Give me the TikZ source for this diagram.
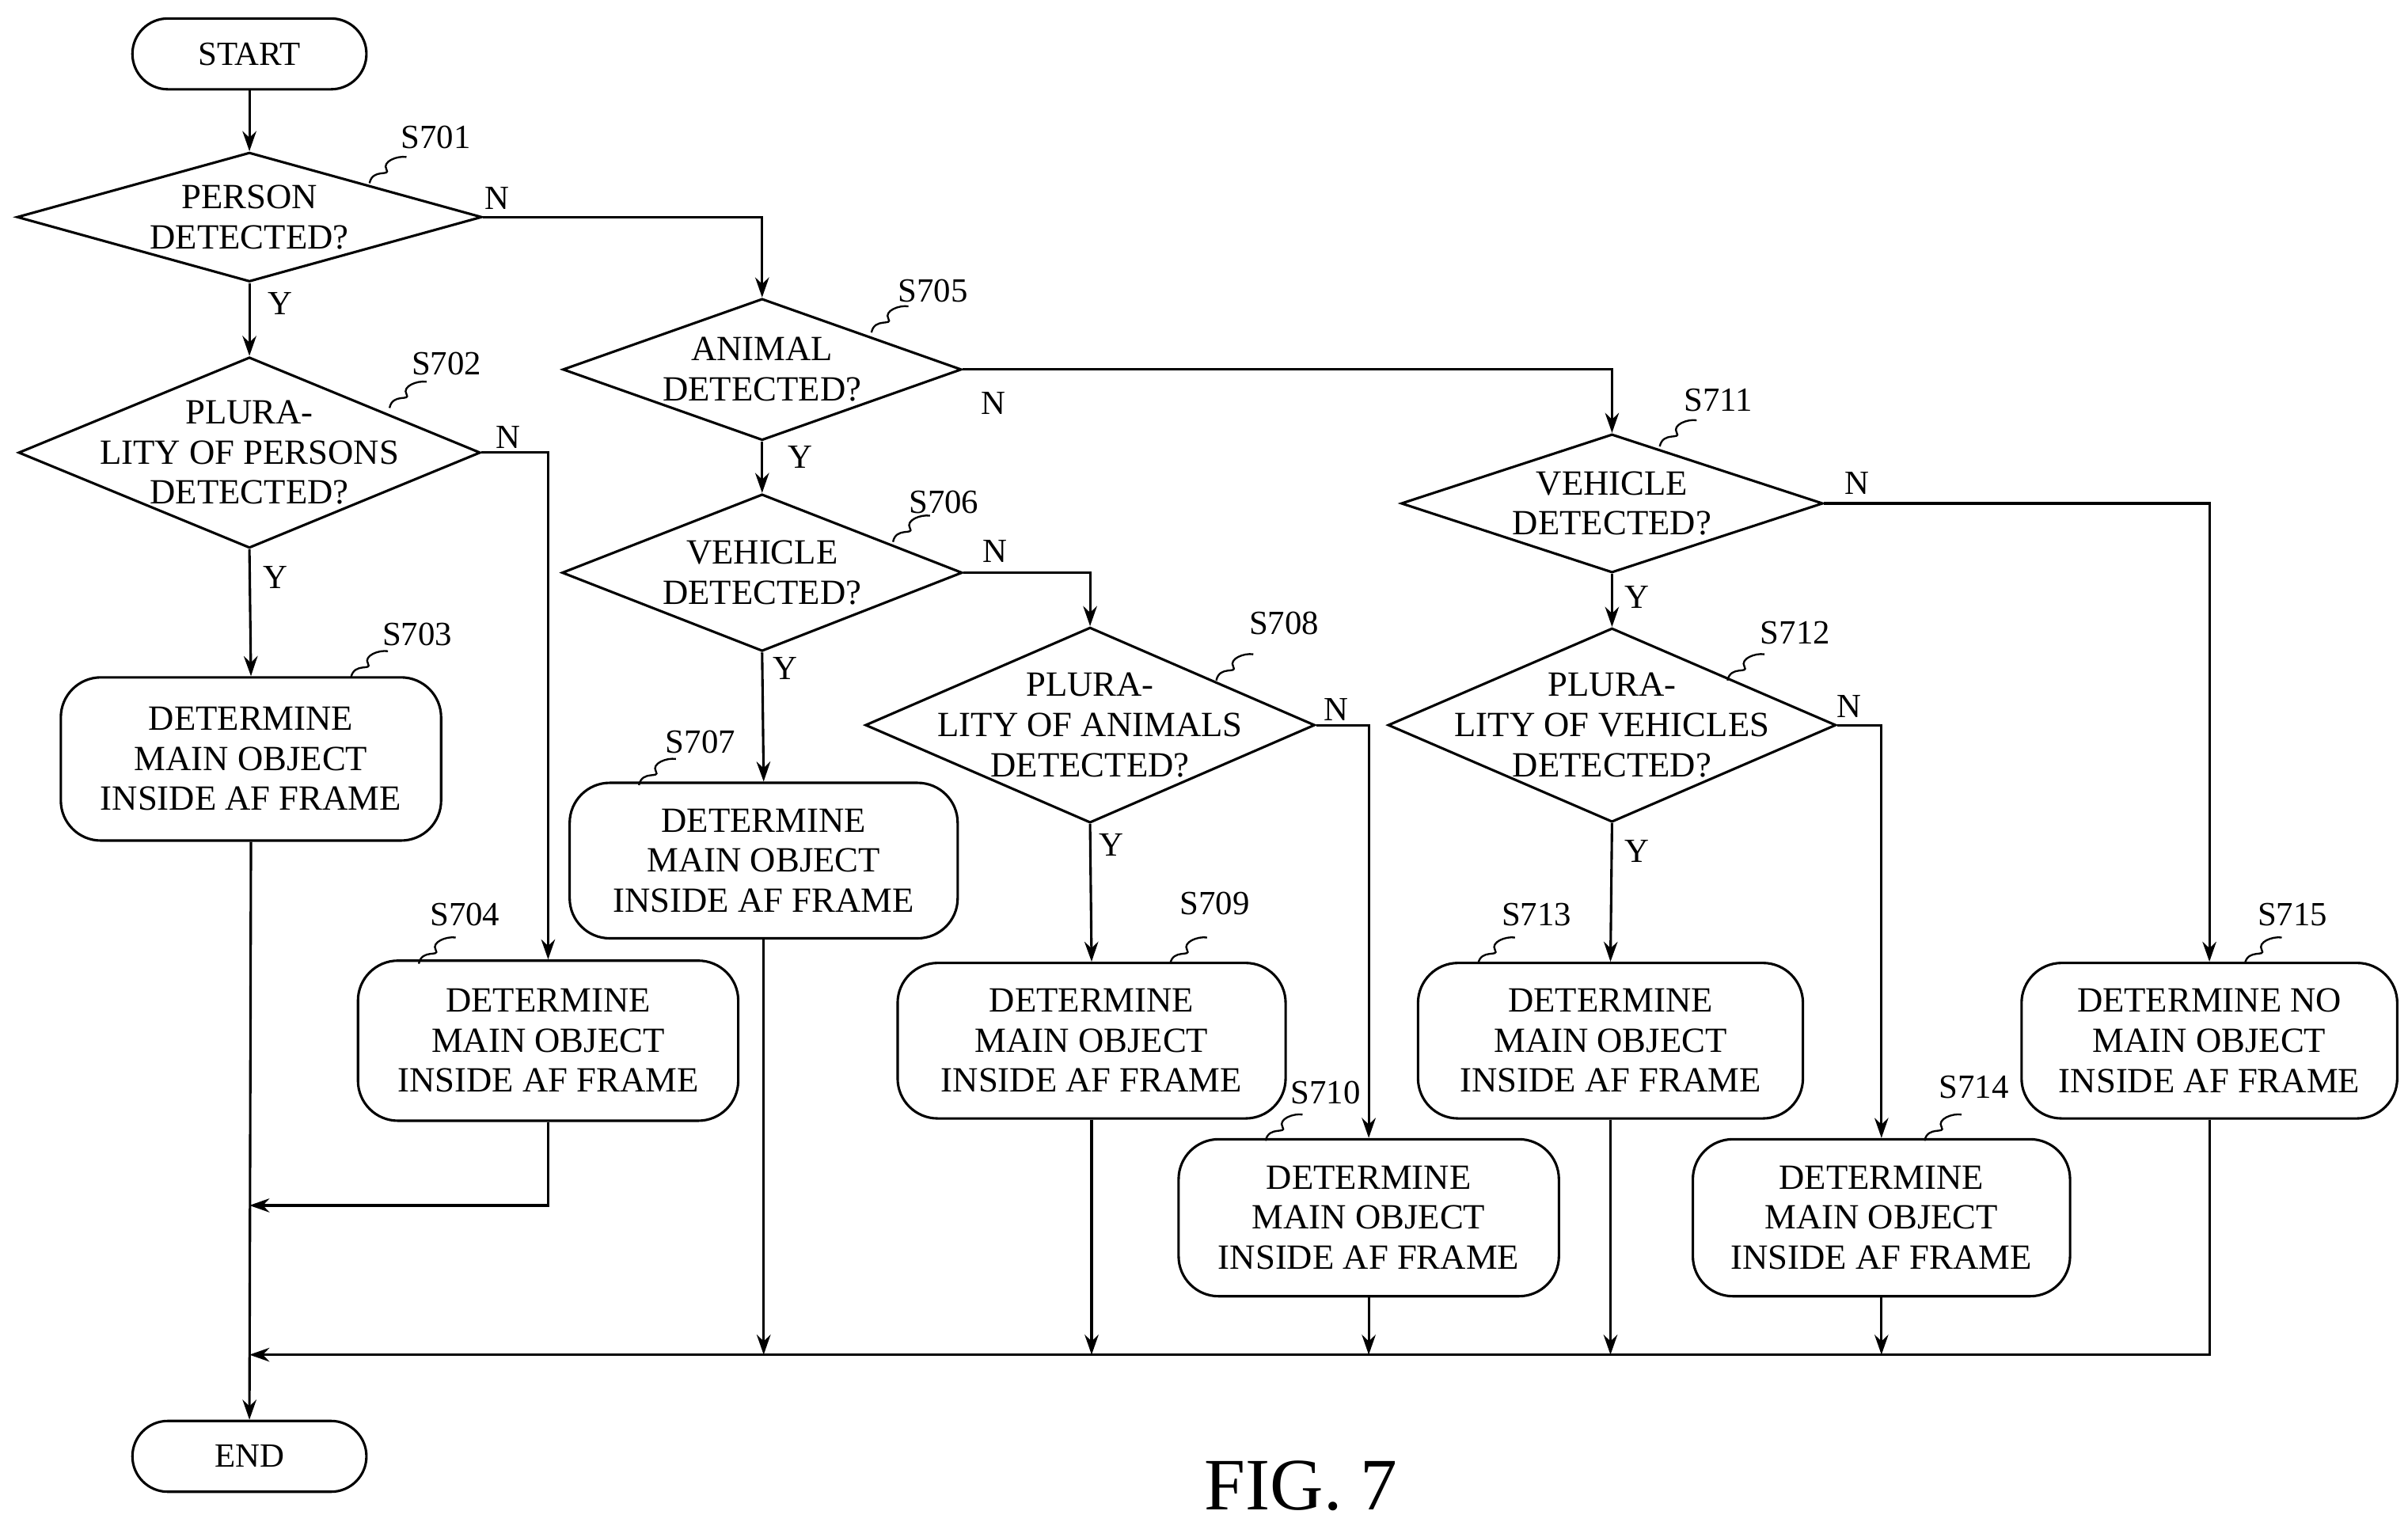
\documentclass[tikz,border=0pt]{standalone}
\usepackage{fontspec}
\setmainfont{Liberation Serif}
\usetikzlibrary{shapes.geometric,arrows.meta}
\begin{document}
\begin{tikzpicture}[x=1pt,y=-1pt,line width=1.6pt,
 txt/.style={font=\fontsize{23}{26}\selectfont,align=center,inner sep=0},
 dia/.style={draw,diamond,inner sep=0},
 box/.style={draw,rounded corners=26pt,inner sep=0,font=\fontsize{23}{26}\selectfont,align=center},
 term/.style={draw,rounded corners=23pt,inner sep=0,minimum width=152pt,minimum height=46pt,font=\fontsize{22}{26}\selectfont},
 lab/.style={font=\fontsize{22}{26}\selectfont,inner sep=0},
 ar/.style={-{Stealth[length=13pt,width=9pt]}},
 lead/.style={line width=1.2pt}]
\useasboundingbox (0,0) rectangle (1564,991);
\node[term] (start) at (162,35) {START};
\node[term] (end) at (162,946) {END};
% diamonds
\node[dia,minimum width=302pt,minimum height=84pt] (s701) at (162,141) {};
\node[txt] at (162,141) {PERSON\\DETECTED?};
\node[dia,minimum width=300pt,minimum height=124pt] (s702) at (162,294) {};
\node[txt] at (162,294) {PLURA-\\LITY OF PERSONS\\DETECTED?};
\node[dia,minimum width=259pt,minimum height=92pt] (s705) at (495,240) {};
\node[txt] at (495,240) {ANIMAL\\DETECTED?};
\node[dia,minimum width=260pt,minimum height=102pt] (s706) at (495,372) {};
\node[txt] at (495,372) {VEHICLE\\DETECTED?};
\node[dia,minimum width=292pt,minimum height=127pt] (s708) at (708,471) {};
\node[txt] at (708,471) {PLURA-\\LITY OF ANIMALS\\DETECTED?};
\node[dia,minimum width=274pt,minimum height=90pt] (s711) at (1047,327) {};
\node[txt] at (1047,327) {VEHICLE\\DETECTED?};
\node[dia,minimum width=291pt,minimum height=126pt] (s712) at (1047,471) {};
\node[txt] at (1047,471) {PLURA-\\LITY OF VEHICLES\\DETECTED?};
% boxes
\node[box,minimum width=247pt,minimum height=106pt] (s703) at (163,493) {DETERMINE\\MAIN OBJECT\\INSIDE AF FRAME};
\node[box,minimum width=247pt,minimum height=104pt] (s704) at (356,676) {DETERMINE\\MAIN OBJECT\\INSIDE AF FRAME};
\node[box,minimum width=252pt,minimum height=101pt] (s707) at (496,559) {DETERMINE\\MAIN OBJECT\\INSIDE AF FRAME};
\node[box,minimum width=252pt,minimum height=101pt] (s709) at (709,676) {DETERMINE\\MAIN OBJECT\\INSIDE AF FRAME};
\node[box,minimum width=247pt,minimum height=102pt] (s710) at (889,791) {DETERMINE\\MAIN OBJECT\\INSIDE AF FRAME};
\node[box,minimum width=250pt,minimum height=101pt] (s713) at (1046,676) {DETERMINE\\MAIN OBJECT\\INSIDE AF FRAME};
\node[box,minimum width=245pt,minimum height=102pt] (s714) at (1222,791) {DETERMINE\\MAIN OBJECT\\INSIDE AF FRAME};
\node[box,minimum width=244pt,minimum height=101pt] (s715) at (1435,676) {DETERMINE NO\\MAIN OBJECT\\INSIDE AF FRAME};
% connectors
\draw[ar] (start) -- (s701);
\draw[ar] (s701.south) -- (s702.north);
\draw[ar] (s701.east) -| (s705.north);
\draw[ar] (s702.south) -- (s703.north);
\draw[ar] (s702.east) -| (s704.north);
\draw[ar] (s705.south) -- (s706.north);
\draw[ar] (s705.east) -| (s711.north);
\draw[ar] (s706.south) -- (s707.north);
\draw[ar] (s706.east) -| (s708.north);
\draw[ar] (s708.south) -- (s709.north);
\draw[ar] (s708.east) -| (s710.north);
\draw[ar] (s711.south) -- (s712.north);
\draw[ar] (s711.east) -| (s715.north);
\draw[ar] (s712.south) -- (s713.north);
\draw[ar] (s712.east) -| (s714.north);
\coordinate (j1) at (162,783);
\coordinate (j2) at (162,880);
\draw[ar] (s704.south) |- (j1);
\draw[ar] (s703.south) -- (end.north);
\draw[ar] (s715.south) |- (j2);
\foreach \n in {s707,s709,s710,s713,s714}{
 \draw[ar] (\n.south) -- (\n.south |- j2);}
% Y/N
\node[lab] at (323,129) {N};
\node[lab] at (182,197) {Y};
\node[lab] at (330,284) {N};
\node[lab] at (179,375) {Y};
\node[lab] at (520,297) {Y};
\node[lab] at (645,262) {N};
\node[lab] at (646,358) {N};
\node[lab] at (510,434) {Y};
\node[lab] at (868,461) {N};
\node[lab] at (722,549) {Y};
\node[lab] at (1206,314) {N};
\node[lab] at (1063,388) {Y};
\node[lab] at (1201,459) {N};
\node[lab] at (1063,553) {Y};
% step labels
\foreach \t/\lx/\ly/\ax/\ay in {S701/283/89/240/119, S702/290/236/253/265, S703/271/412/228/440, S704/302/594/272/626, S705/606/189/566/216, S706/613/326/580/352, S707/455/482/415/510, S708/834/405/790/442, S709/789/587/760/626, S710/861/710/822/741, S711/1116/260/1078/290, S712/1166/411/1122/442, S713/998/594/960/626, S714/1282/706/1250/741, S715/1489/594/1458/626}{
 \node[lab] at (\lx,\ly) {\t};
 \draw[lead] (\ax,\ay) .. controls (\ax+2,\ay-10) and (\ax+14,\ay-4) .. (\ax+11,\ay-9) .. controls (\ax+8,\ay-14) and (\ax+18,\ay-18) .. (\ax+24,\ay-17);
}
\node[font=\fontsize{48}{52}\selectfont,inner sep=0] (fig) at (845,965) {FIG. 7};
\end{tikzpicture}
\end{document}
